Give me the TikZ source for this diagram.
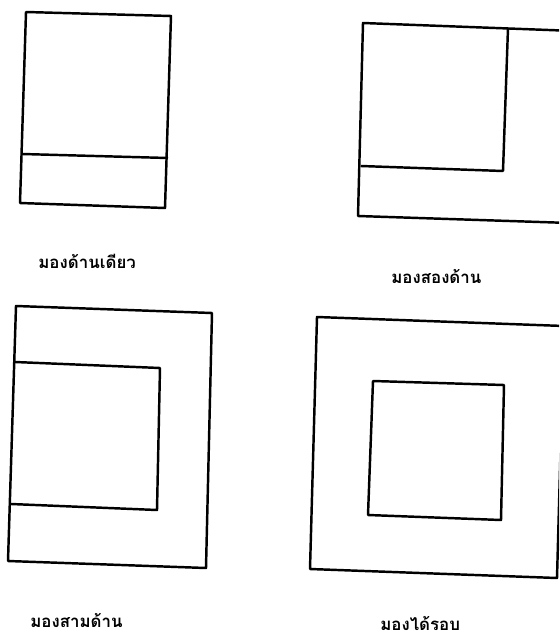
\documentclass[tikz,border=0pt]{standalone}
\usepackage{fontspec}
\usepackage{tikz}
\newfontfamily\thaifont[Script=Thai]{Loma}

\begin{document}
\begin{tikzpicture}[x={(0.02cm,0)}, y={(0,-0.02cm)}]
			\def\lw{1.4pt}
			\tikzset{frame/.style={black, line width=\lw, line join=round},
				caption/.style={font=\thaifont\bfseries\fontsize{9.6}{12}\selectfont, anchor=base west, inner sep=0pt}}

			\useasboundingbox (0,0) rectangle (559,639);
			\clip (0,0) rectangle (559,639);

			% one side
			\draw[frame] (26,12) -- (171,16) -- (165,208) -- (20,203) -- cycle;
			\draw[frame] (22,154) -- (168,158);

			% two sides
			\draw[frame] (363,23) -- (575,31) -- (570,223) -- (358,216) -- cycle;
			\draw[frame] (361,166) -- (503,171) -- (508,28);

			% three sides
			\draw[frame] (16,306) -- (212,313) -- (206,568) -- (8,561) -- cycle;
			\draw[frame] (15,362) -- (160,368) -- (157,510) -- (11,504);

			% all round
			\draw[frame] (317,317) -- (564,326) -- (557,578) -- (310,569) -- cycle;
			\draw[frame] (373,381) -- (504,385) -- (501,520) -- (368,515) -- cycle;

			\node[caption] (one) at (38,268) {มองด้านเดียว};
			\node[caption] (two) at (391,283) {มองสองด้าน};
			\node[caption] (three) at (30,627) {มองสามด้าน};
			\node[caption] (four) at (380,630) {มองได้รอบ};
		\end{tikzpicture}
\end{document}
